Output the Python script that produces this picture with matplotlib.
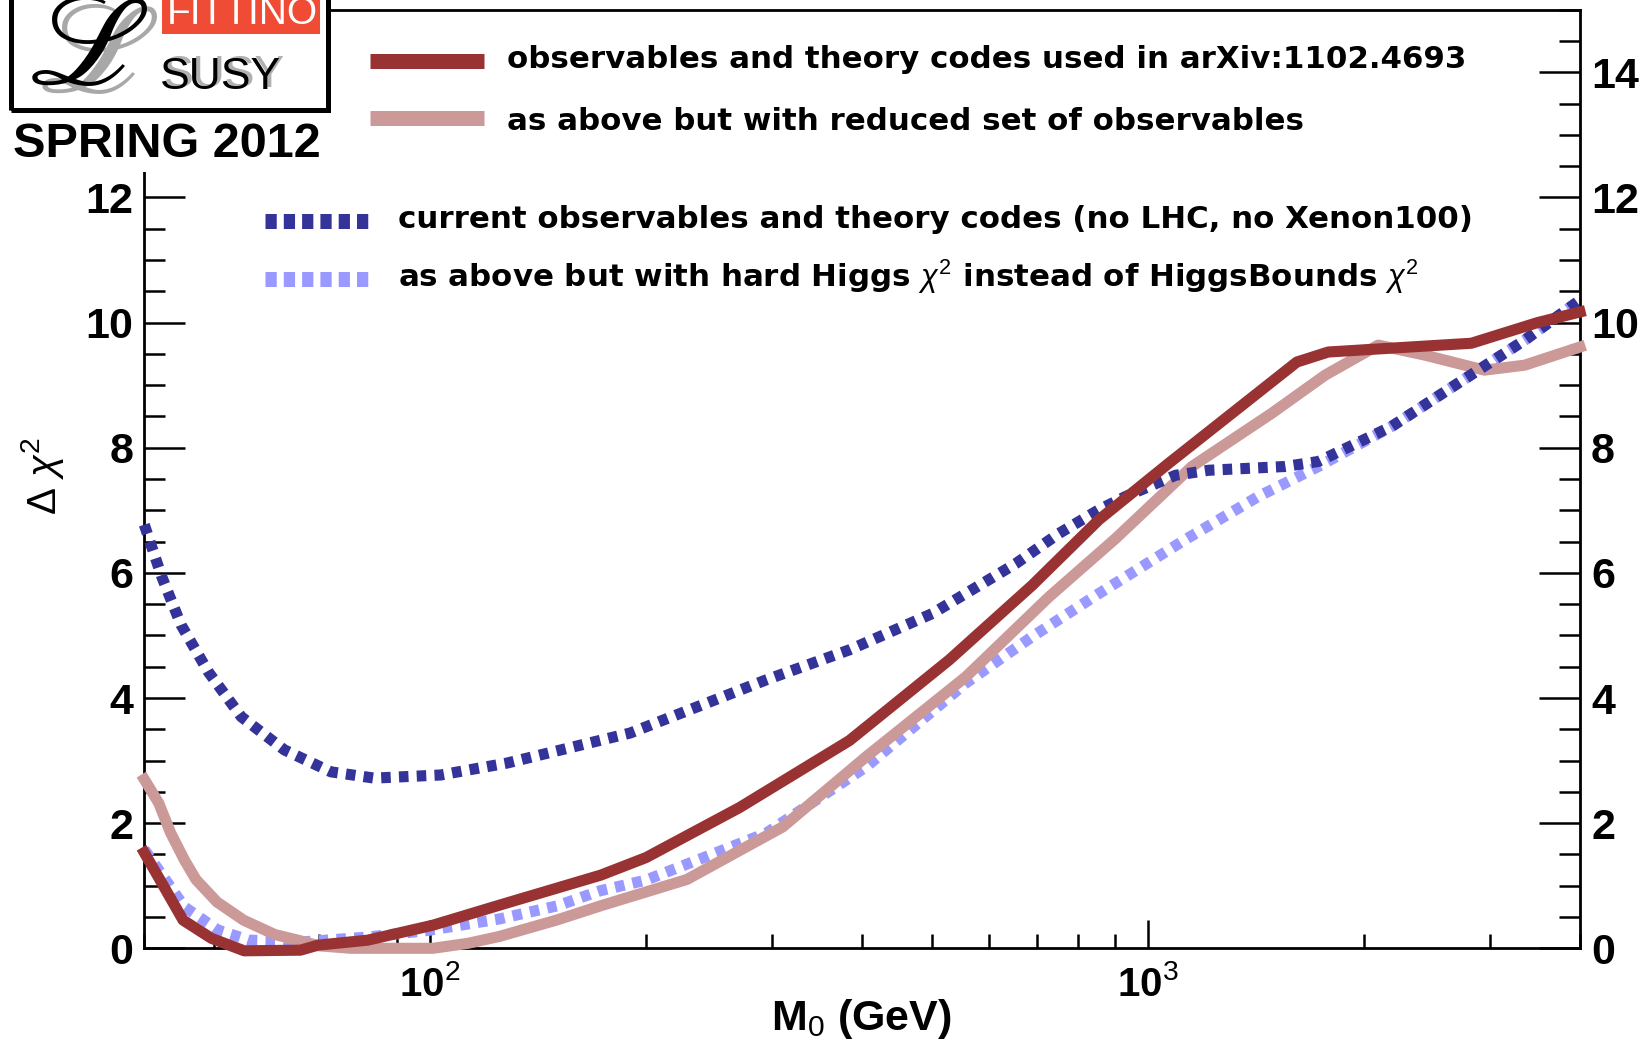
import math
import matplotlib
matplotlib.use("Agg")
import matplotlib.pyplot as plt
from matplotlib.lines import Line2D
from matplotlib.patches import Rectangle
from matplotlib.ticker import LogLocator, MultipleLocator, FuncFormatter, NullFormatter

plt.rcParams['font.family'] = ['Liberation Sans', 'DejaVu Sans']
plt.rcParams['font.weight'] = 'bold'
plt.rcParams['mathtext.fontset'] = 'custom'
plt.rcParams['mathtext.rm'] = 'Liberation Sans:weight=normal'
plt.rcParams['mathtext.it'] = 'Liberation Sans:style=italic:weight=normal'
plt.rcParams['mathtext.bf'] = 'Liberation Sans:weight=bold'

# ---- profile likelihood scans in M0 (GeV) ----
# observables and theory codes used in arXiv:1102.4693
m0_2011 = [40, 45.3, 49.6, 55.1, 66, 69.8, 81.9, 101, 125, 173, 200, 270, 384,
           529, 690, 855, 1069, 1613, 1784, 2823, 3490, 4000]
dchi2_2011 = [1.53, 0.45, 0.16, -0.04, -0.03, 0.05, 0.13, 0.37, 0.69, 1.17, 1.45,
              2.25, 3.32, 4.61, 5.80, 6.85, 7.75, 9.37, 9.53, 9.67, 10.0, 10.17]

# reduced set of observables
m0_reduced = [40, 41.9, 43.5, 45.5, 47.2, 50.5, 55, 60.8, 66, 70, 77.6, 101, 113,
              125, 150, 173, 228, 310, 405, 558, 729, 902, 1152, 1488, 1766, 2094,
              2432, 2944, 3350, 4000]
dchi2_reduced = [2.70, 2.32, 1.85, 1.41, 1.10, 0.74, 0.45, 0.22, 0.12, 0.04, 0.0,
                 0.0, 0.08, 0.19, 0.45, 0.68, 1.10, 1.94, 3.06, 4.34, 5.62, 6.55,
                 7.70, 8.55, 9.16, 9.64, 9.48, 9.24, 9.32, 9.61]

# current observables (no LHC, no Xenon100)
m0_current = [40, 42.3, 45, 49.1, 54.6, 62.7, 72.8, 83.6, 103.5, 128, 158.5, 190,
              294, 384, 501, 655, 752, 855, 931, 1093, 1216, 1553, 1728, 2186,
              2704, 3350, 4000]
dchi2_current = [6.77, 5.94, 5.17, 4.42, 3.70, 3.17, 2.82, 2.72, 2.77, 2.96, 3.22,
                 3.44, 4.29, 4.77, 5.35, 6.15, 6.63, 7.01, 7.22, 7.56, 7.64, 7.70,
                 7.78, 8.34, 9.03, 9.72, 10.36]

# hard Higgs chi2 instead of HiggsBounds chi2
m0_hardhiggs = [40, 45.5, 50.7, 56, 66, 82, 100, 125, 150.6, 172.7, 200, 294, 405,
                558, 690, 855, 1127, 1425, 1728, 2186, 2704, 3350, 4000]
dchi2_hardhiggs = [1.58, 0.66, 0.29, 0.13, 0.10, 0.18, 0.29, 0.47, 0.68, 0.92, 1.09,
                   1.84, 2.90, 4.24, 4.98, 5.67, 6.53, 7.22, 7.70, 8.34, 9.03, 9.72,
                   10.36]

labels_top = ["observables and theory codes used in arXiv:1102.4693",
              "as above but with reduced set of observables"]
labels_bottom = ["current observables and theory codes (no LHC, no Xenon100)",
                 r"as above but with hard Higgs $\chi^{2}$ instead of HiggsBounds $\chi^{2}$"]

C_2011 = "#993333"
C_RED = "#cc9999"
C_CUR = "#333399"
C_HH = "#9999ff"

W, H = 1652, 1043
fig = plt.figure(figsize=(W / 100, H / 100), dpi=100)


def fx(px):
    return px / W


def fy(py):
    return 1 - py / H


ax = fig.add_axes([fx(144.3), fy(948.3), (1580 - 144.3) / W, (948.3 - 9.75) / H])
ax.set_xscale('log')
ax.set_xlim(40, 4000)
ax.set_ylim(0, 15)

LW = 8.0
DOT = (0.86, 0.74)
ax.plot(m0_hardhiggs, dchi2_hardhiggs, color=C_HH, lw=LW, dashes=DOT,
        dash_capstyle='butt', clip_on=False, zorder=2)
ax.plot(m0_reduced, dchi2_reduced, color=C_RED, lw=LW, clip_on=False, zorder=3)
ax.plot(m0_current, dchi2_current, color=C_CUR, lw=LW, dashes=DOT,
        dash_capstyle='butt', clip_on=False, zorder=4)
ax.plot(m0_2011, dchi2_2011, color=C_2011, lw=LW, clip_on=False, zorder=5)

for s in ax.spines.values():
    s.set_linewidth(2.0)

ax.yaxis.set_major_locator(MultipleLocator(2))
ax.yaxis.set_minor_locator(MultipleLocator(0.5))
ax.xaxis.set_major_locator(LogLocator(base=10))
ax.xaxis.set_minor_locator(LogLocator(base=10, subs=range(2, 10)))
ax.xaxis.set_major_formatter(FuncFormatter(
    lambda v, p: r'$\mathbf{10}^{%d}$' % round(math.log10(v))))
ax.xaxis.set_minor_formatter(NullFormatter())

ax.tick_params(axis='y', which='major', direction='in', length=29.5, width=1.8,
               left=True, right=True, labelleft=True, labelright=True,
               labelsize=31, pad=8)
ax.tick_params(axis='y', which='minor', direction='in', length=15, width=1.8,
               left=True, right=True)
ax.tick_params(axis='x', which='major', direction='in', length=20.5, width=1.8,
               top=False, labelsize=29, pad=12)
ax.tick_params(axis='x', which='minor', direction='in', length=10, width=1.8,
               top=False)

ax.set_xlabel(r'$\mathbf{M}_{0}$ (GeV)', fontsize=31, fontweight='bold')
ax.xaxis.set_label_coords((861 - 144.3) / 1435.7, (948.3 - 1030) / 938.55)
ax.xaxis.label.set_va('baseline')
ax.set_ylabel(r'$\Delta\ \chi^{2}$', fontsize=29, fontweight='normal')
ax.yaxis.set_label_coords((42 - 144.3) / 1435.7, (948.3 - 476) / 938.55)
ax.yaxis.label.set_va('center')
ax.yaxis.label.set_ha('center')

# ---- legends ----
LEG_FONT = dict(family=['DejaVu Sans'], weight='bold', size=22.2)
fig.add_artist(Line2D([fx(370), fx(484)], [fy(60.7)] * 2, color=C_2011, lw=10.8,
                      solid_capstyle='butt'))
fig.add_artist(Line2D([fx(370), fx(484)], [fy(117.5)] * 2, color=C_RED, lw=10.8,
                      solid_capstyle='butt'))
fig.text(fx(507), fy(68.3), labels_top[0], va='baseline', ha='left', **LEG_FONT)
fig.text(fx(507), fy(130), labels_top[1], va='baseline', ha='left', **LEG_FONT)

fig.add_artist(Line2D([fx(265), fx(368)], [fy(220.7)] * 2, color=C_CUR, lw=10.8,
                      dashes=(0.75, 0.47), dash_capstyle='butt'))
fig.add_artist(Line2D([fx(265), fx(368)], [fy(278.7)] * 2, color=C_HH, lw=10.8,
                      dashes=(0.75, 0.47), dash_capstyle='butt'))
fig.text(fx(398), fy(228.3), labels_bottom[0], va='baseline', ha='left', **LEG_FONT)
fig.text(fx(398), fy(286.7), labels_bottom[1], va='baseline', ha='left', **LEG_FONT)

# ---- logo ----
fig.add_artist(Rectangle((0, fy(172)), fx(331), 172 / H, transform=fig.transFigure,
                         facecolor='white', edgecolor='none', zorder=10))
fig.add_artist(Rectangle((fx(10.5), fy(109.5)), fx(317), 130 / H,
                         transform=fig.transFigure, facecolor='none',
                         edgecolor='black', lw=3.6, zorder=11))
fig.add_artist(Rectangle((fx(162), fy(34)), fx(158), 40 / H, transform=fig.transFigure,
                         facecolor='#ef4b35', edgecolor='none', zorder=11))
fig.text(fx(242), fy(24), 'FITTINO', color='white', ha='center', va='baseline',
         fontsize=28, fontweight='normal', zorder=12)
LOGO_L = dict(family=['STIXGeneral', 'DejaVu Sans'], fontweight='normal',
              fontsize=92, ha='left', va='baseline', zorder=12)
fig.text(fx(38), fy(92), '\u2112', color='#a8a8a8', **LOGO_L)
fig.text(fx(28), fy(84), '\u2112', color='black', **LOGO_L)
fig.text(fx(164), fy(87), 'SUSY', color='#b0b0b0', ha='left', va='baseline',
         fontsize=32, fontweight='normal', zorder=12)
fig.text(fx(160), fy(89), 'SUSY', color='black', ha='left', va='baseline',
         fontsize=32, fontweight='normal', zorder=12)
fig.text(fx(13), fy(157), 'SPRING 2012', color='black', ha='left', va='baseline',
         fontsize=35, fontweight='bold', zorder=12)

fig.savefig('out.png', dpi=100)
